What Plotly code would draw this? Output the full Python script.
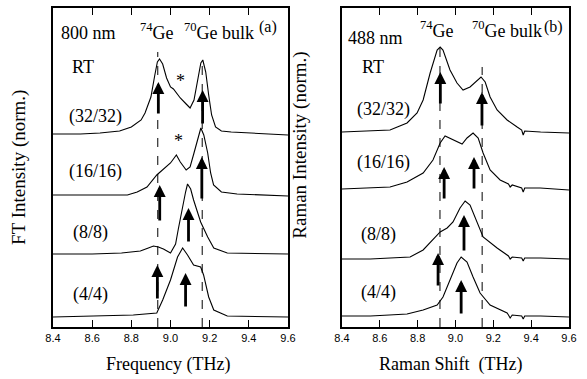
import plotly.graph_objects as go

# ---------------- data ----------------
ticks = [8.4, 8.6, 8.8, 9.0, 9.2, 9.4, 9.6]
tick_text = ["8.4", "8.6", "8.8", "9.0", "9.2", "9.4", "9.6"]
sample_labels = ["(32/32)", "(16/16)", "(8/8)", "(4/4)"]

# Panel (a): FT spectra, 800 nm (frequency THz, normalized intensity above baseline)
ft_32_f = [8.40, 8.54, 8.64, 8.74, 8.80, 8.82, 8.85, 8.87, 8.90, 8.92, 8.933, 8.944, 8.96, 8.98, 9.00,
           9.015, 9.03, 9.05, 9.08, 9.10, 9.12, 9.14, 9.155, 9.165, 9.18, 9.195, 9.21, 9.23, 9.26, 9.31, 9.41, 9.60]
ft_32_i = [0.01, 0.01, 0.02, 0.04, 0.08, 0.11, 0.15, 0.22, 0.38, 0.60, 0.73, 0.76, 0.71, 0.57, 0.48,
           0.46, 0.42, 0.37, 0.31, 0.27, 0.35, 0.55, 0.72, 0.75, 0.63, 0.40, 0.20, 0.08, 0.04, 0.03, 0.02, 0.00]
ft_16_f = [8.40, 8.60, 8.78, 8.83, 8.88, 8.93, 8.96, 9.00, 9.03, 9.05, 9.08, 9.10, 9.12, 9.14, 9.155,
           9.17, 9.19, 9.205, 9.22, 9.26, 9.34, 9.60]
ft_16_i = [0.00, 0.00, 0.00, 0.03, 0.08, 0.20, 0.25, 0.32, 0.40, 0.33, 0.25, 0.28, 0.42, 0.58, 0.67,
           0.60, 0.42, 0.22, 0.10, 0.03, 0.01, -0.01]
ft_8_f = [8.40, 8.60, 8.75, 8.846, 8.887, 8.913, 8.938, 8.964, 9.00, 9.026, 9.04, 9.06, 9.077, 9.087,
          9.103, 9.118, 9.154, 9.19, 9.221, 9.29, 9.60]
ft_8_i = [0.00, 0.00, 0.01, 0.03, 0.06, 0.08, 0.07, 0.05, 0.01, 0.10, 0.25, 0.47, 0.62, 0.70,
          0.65, 0.54, 0.32, 0.17, 0.06, 0.01, 0.00]
ft_4_f = [8.40, 8.60, 8.81, 8.93, 8.96, 9.00, 9.036, 9.062, 9.087, 9.118, 9.154, 9.169, 9.195, 9.221, 9.29, 9.60]
ft_4_i = [0.00, 0.01, 0.02, 0.04, 0.17, 0.37, 0.60, 0.69, 0.62, 0.52, 0.50, 0.42, 0.20, 0.07, 0.01, 0.00]

# Panel (b): Raman spectra, 488 nm
ra_32_f = [8.40, 8.55, 8.654, 8.744, 8.797, 8.829, 8.866, 8.903, 8.919, 8.934, 8.971, 9.008, 9.04, 9.077,
           9.114, 9.135, 9.157, 9.183, 9.22, 9.273, 9.326, 9.35, 9.358, 9.366, 9.45, 9.60]
ra_32_i = [0.01, 0.02, 0.03, 0.10, 0.20, 0.33, 0.60, 0.83, 0.86, 0.83, 0.63, 0.50, 0.43, 0.46,
           0.53, 0.56, 0.51, 0.36, 0.23, 0.13, 0.06, 0.03, -0.02, 0.02, 0.01, 0.00]
ra_16_f = [8.40, 8.55, 8.654, 8.744, 8.829, 8.881, 8.919, 8.945, 8.987, 9.035, 9.061, 9.093, 9.12, 9.146,
           9.183, 9.236, 9.28, 9.289, 9.30, 9.35, 9.358, 9.366, 9.448, 9.60]
ra_16_i = [0.00, 0.01, 0.02, 0.07, 0.16, 0.29, 0.46, 0.53, 0.49, 0.45, 0.51, 0.56, 0.51, 0.36,
           0.19, 0.09, 0.05, 0.02, 0.04, 0.01, -0.03, 0.01, 0.01, -0.01]
ra_8_f = [8.40, 8.55, 8.654, 8.76, 8.829, 8.881, 8.919, 8.956, 8.987, 9.024, 9.051, 9.077, 9.114, 9.146,
          9.22, 9.28, 9.289, 9.30, 9.35, 9.358, 9.366, 9.45, 9.60]
ra_8_i = [0.00, 0.00, 0.01, 0.02, 0.09, 0.19, 0.27, 0.31, 0.37, 0.51, 0.58, 0.54, 0.36, 0.22,
          0.11, 0.03, 0.00, 0.02, 0.01, -0.02, 0.01, 0.01, 0.00]
ra_4_f = [8.40, 8.55, 8.65, 8.744, 8.829, 8.903, 8.934, 8.971, 9.008, 9.03, 9.061, 9.093, 9.13, 9.183,
          9.273, 9.28, 9.289, 9.30, 9.35, 9.358, 9.366, 9.45, 9.60]
ra_4_i = [0.00, 0.00, 0.01, 0.02, 0.06, 0.11, 0.19, 0.36, 0.53, 0.59, 0.54, 0.39, 0.23, 0.11,
          0.03, 0.01, -0.02, 0.01, 0.00, -0.03, 0.00, 0.00, -0.01]

# vertical offsets of the stacked spectra
ft_offsets = [1.92, 1.32, 0.73, 0.10]
ra_offsets = [1.94, 1.38, 0.68, 0.11]

# arrows: (frequency, tail, head)
ft_arrows = [(8.938, 2.12, 2.45), (9.164, 2.02, 2.37),
             (8.945, 1.05, 1.42), (9.160, 1.27, 1.70),
             (9.092, 0.84, 1.19),
             (8.933, 0.27, 0.62), (9.077, 0.19, 0.54)]
ra_arrows = [(8.920, 2.22, 2.55), (9.140, 2.00, 2.35),
             (8.940, 1.27, 1.60), (9.098, 1.37, 1.70),
             (9.045, 0.75, 1.12), (8.908, 0.40, 0.74),
             (9.030, 0.12, 0.47)]

# dashed reference lines: (frequency, top)
ft_dash = [(8.935, 2.75), (9.162, 2.62)]
ra_dash = [(8.918, 2.82), (9.141, 2.60)]

ft_spectra = [(ft_32_f, ft_32_i), (ft_16_f, ft_16_i), (ft_8_f, ft_8_i), (ft_4_f, ft_4_i)]
ra_spectra = [(ra_32_f, ra_32_i), (ra_16_f, ra_16_i), (ra_8_f, ra_8_i), (ra_4_f, ra_4_i)]

# ---------------- figure ----------------
SERIF = "Liberation Serif"
fig = go.Figure()

for (f, i), off in zip(ft_spectra, ft_offsets):
    fig.add_trace(go.Scatter(x=f, y=[v + off for v in i], mode="lines",
                             line=dict(color="black", width=1.1), xaxis="x", yaxis="y",
                             showlegend=False, hoverinfo="skip"))
for (f, i), off in zip(ra_spectra, ra_offsets):
    fig.add_trace(go.Scatter(x=f, y=[v + off for v in i], mode="lines",
                             line=dict(color="black", width=1.1), xaxis="x2", yaxis="y2",
                             showlegend=False, hoverinfo="skip"))

shapes = []
for xr, yr, dash in (("x", "y", ft_dash), ("x2", "y2", ra_dash)):
    for fx, top in dash:
        shapes.append(dict(type="line", xref=xr, yref=yr, x0=fx, x1=fx, y0=0, y1=top,
                           line=dict(color="black", width=1, dash="dash")))

ann = []
for xr, yr, arrows in (("x", "y", ft_arrows), ("x2", "y2", ra_arrows)):
    for fx, tail, head in arrows:
        ann.append(dict(x=fx, y=head, ax=fx, ay=tail, xref=xr, yref=yr, axref=xr, ayref=yr,
                        text="", showarrow=True, arrowhead=2, arrowsize=0.85, arrowwidth=2.8,
                        arrowcolor="black", standoff=0, startstandoff=0))

def txt(x, y, s, xr, yr, size=18, **kw):
    d = dict(x=x, y=y, xref=xr, yref=yr, text=s, showarrow=False,
             xanchor="center", yanchor="middle",
             font=dict(family=SERIF, size=size, color="black"))
    d.update(kw)
    ann.append(d)

# panel (a) labels
txt(8.58, 2.94, "800 nm", "x", "y")
txt(8.554, 2.60, "RT", "x", "y")
for lab, yy in zip(sample_labels, [2.10, 1.55, 0.94, 0.32]):
    txt(8.615 if len(lab) > 5 else 8.59, yy, lab, "x", "y")
txt(8.933, 2.95, "<sup>74</sup>Ge", "x", "y")
txt(9.25, 2.95, "<sup>70</sup>Ge bulk", "x", "y")
txt(9.497, 3.00, "(a)", "x", "y", size=16)
txt(9.051, 2.46, "*", "x", "y", size=18)
txt(9.041, 1.86, "*", "x", "y", size=18)

# panel (b) labels
txt(8.575, 2.89, "488 nm", "x2", "y2")
txt(8.564, 2.60, "RT", "x2", "y2")
for lab, yy in zip(sample_labels, [2.17, 1.64, 0.92, 0.34]):
    txt(8.617 if len(lab) > 5 else 8.595, yy, lab, "x2", "y2")
txt(8.903, 2.97, "<sup>74</sup>Ge", "x2", "y2")
txt(9.27, 2.97, "<sup>70</sup>Ge bulk", "x2", "y2")
txt(9.516, 3.00, "(b)", "x2", "y2", size=16)

# axis titles
txt(0.287, 0.037, "Frequency (THz)", "paper", "paper", size=18)
txt(0.767, 0.037, "Raman Shift  (THz)", "paper", "paper", size=18)
txt(0.032, 0.559, "FT Intensity (norm.)", "paper", "paper", size=19, textangle=-90)
txt(0.512, 0.617, "Raman Intensity (norm.)", "paper", "paper", size=19, textangle=-90)

xcommon = dict(range=[8.4, 9.6], tickvals=ticks, ticktext=tick_text, ticks="inside", ticklen=7,
               tickwidth=1.3, tickcolor="black", showline=True, linecolor="black", linewidth=1.6,
               mirror="ticks", showgrid=False, zeroline=False, automargin=False,
               tickfont=dict(family="Liberation Sans", size=11, color="black"))
ycommon = dict(range=[0, 3.19], showticklabels=False, ticks="", showline=True, linecolor="black",
               linewidth=1.6, mirror=True, showgrid=False, zeroline=False, automargin=False)

fig.update_layout(
    width=587, height=379, margin=dict(l=0, r=0, t=0, b=0, autoexpand=False),
    paper_bgcolor="white", plot_bgcolor="white",
    xaxis=dict(domain=[0.0903, 0.4906], anchor="y", **xcommon),
    yaxis=dict(domain=[0.1372, 0.9789], anchor="x", **ycommon),
    xaxis2=dict(domain=[0.5826, 0.9693], anchor="y2", **xcommon),
    yaxis2=dict(domain=[0.1372, 0.9789], anchor="x2", **ycommon),
    shapes=shapes, annotations=ann,
)

fig.write_html("out.html", config={"displayModeBar": False},
               post_script="document.body.style.margin='0';")
